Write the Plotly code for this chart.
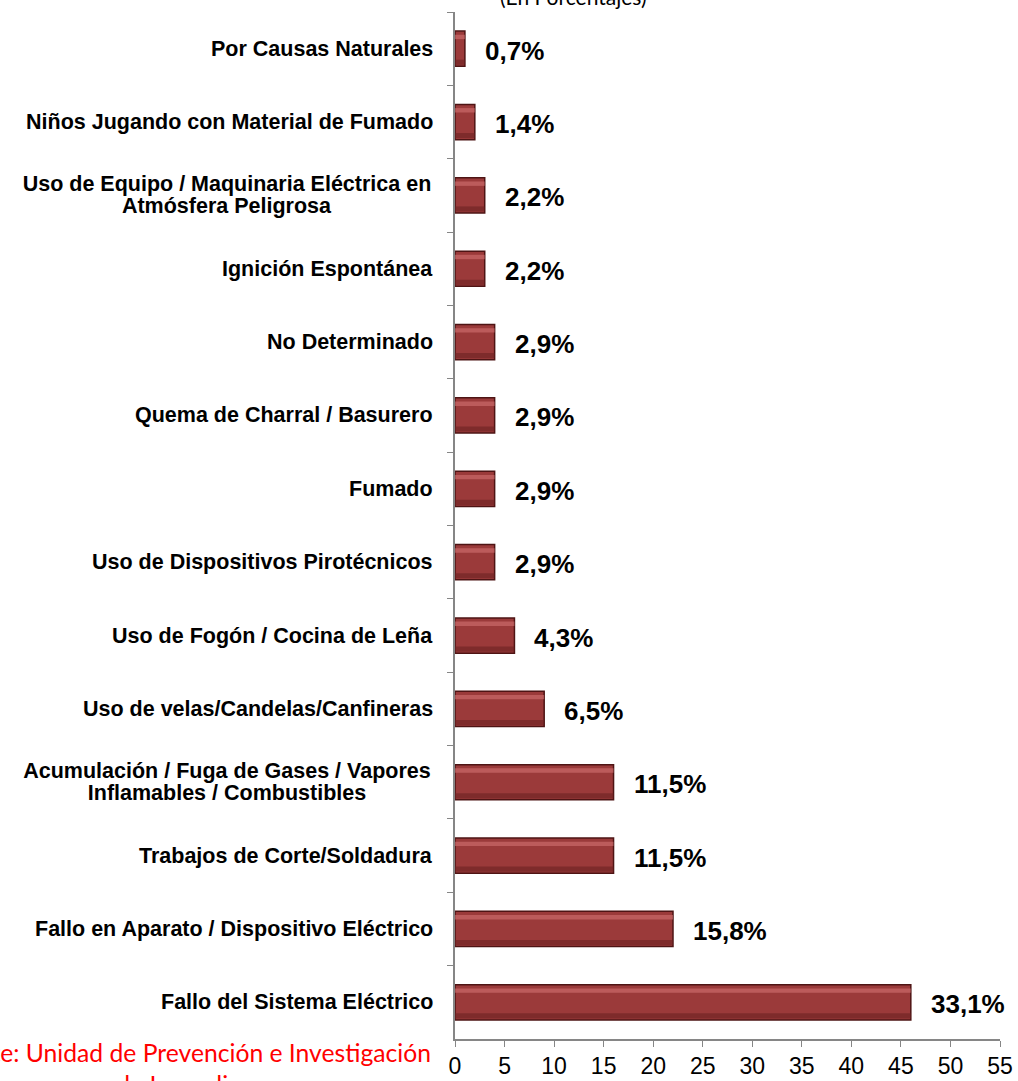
import plotly.graph_objects as go

categories = [
    "Por Causas Naturales",
    "Niños Jugando con Material de Fumado",
    "Uso de Equipo / Maquinaria Eléctrica en<br>Atmósfera Peligrosa",
    "Ignición Espontánea",
    "No Determinado",
    "Quema de Charral / Basurero",
    "Fumado",
    "Uso de Dispositivos Pirotécnicos",
    "Uso de Fogón / Cocina de Leña",
    "Uso de velas/Candelas/Canfineras",
    "Acumulación / Fuga de Gases / Vapores<br>Inflamables / Combustibles",
    "Trabajos de Corte/Soldadura",
    "Fallo en Aparato / Dispositivo Eléctrico",
    "Fallo del Sistema Eléctrico",
]
counts = [1, 2, 3, 3, 4, 4, 4, 4, 6, 9, 16, 16, 22, 46]
percent_labels = ["0,7%", "1,4%", "2,2%", "2,2%", "2,9%", "2,9%", "2,9%", "2,9%",
                  "4,3%", "6,5%", "11,5%", "11,5%", "15,8%", "33,1%"]
x_ticks = list(range(0, 60, 5))

FONT = "Liberation Sans, Arial, sans-serif"

fig = go.Figure()
fig.add_trace(go.Bar(
    y=categories, x=counts, orientation="h", width=0.48,
    marker=dict(color="#9B3A3A", line=dict(color="#4E1414", width=1.5)),
    hoverinfo="skip", showlegend=False,
))
fig.add_trace(go.Bar(
    y=categories, x=counts, orientation="h", width=0.06, offset=-0.19,
    marker=dict(color="#D27272", line=dict(width=0), opacity=0.6),
    hoverinfo="skip", showlegend=False,
))
fig.add_trace(go.Bar(
    y=categories, x=counts, orientation="h", width=0.07, offset=0.15,
    marker=dict(color="#6A2222", line=dict(width=0), opacity=0.6),
    hoverinfo="skip", showlegend=False,
))

annotations = []
LINE_H = 22
for cat in categories:
    lines = cat.split("<br>")
    n = len(lines)
    for i, line in enumerate(lines):
        ann = dict(
            x=0, xref="paper", y=cat, yref="y", text="<b>%s</b>" % line,
            xanchor="right", yanchor="middle", xshift=-20,
            yshift=((n - 1) / 2 - i) * LINE_H,
            showarrow=False, font=dict(family=FONT, size=21.5, color="#000000"),
        )
        if n > 1:
            ann.update(width=412, align="center")
        annotations.append(ann)
for cat, v, lab in zip(categories, counts, percent_labels):
    annotations.append(dict(
        x=v, xref="x", y=cat, yref="y", text="<b>%s</b>" % lab,
        xanchor="left", yanchor="middle", xshift=18, yshift=-2,
        showarrow=False, font=dict(family=FONT, size=26, color="#000000"),
    ))
annotations.append(dict(
    x=(573 - 455) / 545, xref="paper", y=1, yref="paper", text="(En Porcentajes)",
    showarrow=False, xanchor="center", yanchor="bottom", yshift=1,
    font=dict(family="Lato", size=21, color="#000000"),
))
annotations.append(dict(
    x=(433 - 455) / 545, xref="paper", y=0, yref="paper",
    text="Fuente: Unidad de Prevención e Investigación<br>de Incendios",
    showarrow=False, xanchor="right", yanchor="top", align="center", yshift=3,
    font=dict(family="Lato", size=24.7, color="#FF0000"),
))

fig.update_layout(
    width=1018, height=1081,
    margin=dict(l=455, r=18, t=12, b=42, autoexpand=False),
    paper_bgcolor="white", plot_bgcolor="white",
    barmode="overlay",
    annotations=annotations,
    xaxis=dict(
        range=[0, 55], tickvals=x_ticks, showgrid=False, zeroline=False,
        showline=True, linecolor="#868686", linewidth=1.5,
        ticks="outside", ticklen=6, tickcolor="#868686",
        tickfont=dict(family=FONT, size=23, color="#000000"),
    ),
    yaxis=dict(
        autorange="reversed", showticklabels=False, showgrid=False,
        showline=True, linecolor="#868686", linewidth=1.5,
        ticks="outside", ticklen=6, tickcolor="#868686", tickson="boundaries",
    ),
)

fig.write_html("out.html", config={"displayModeBar": False},
               post_script="document.body.style.margin='0';")
